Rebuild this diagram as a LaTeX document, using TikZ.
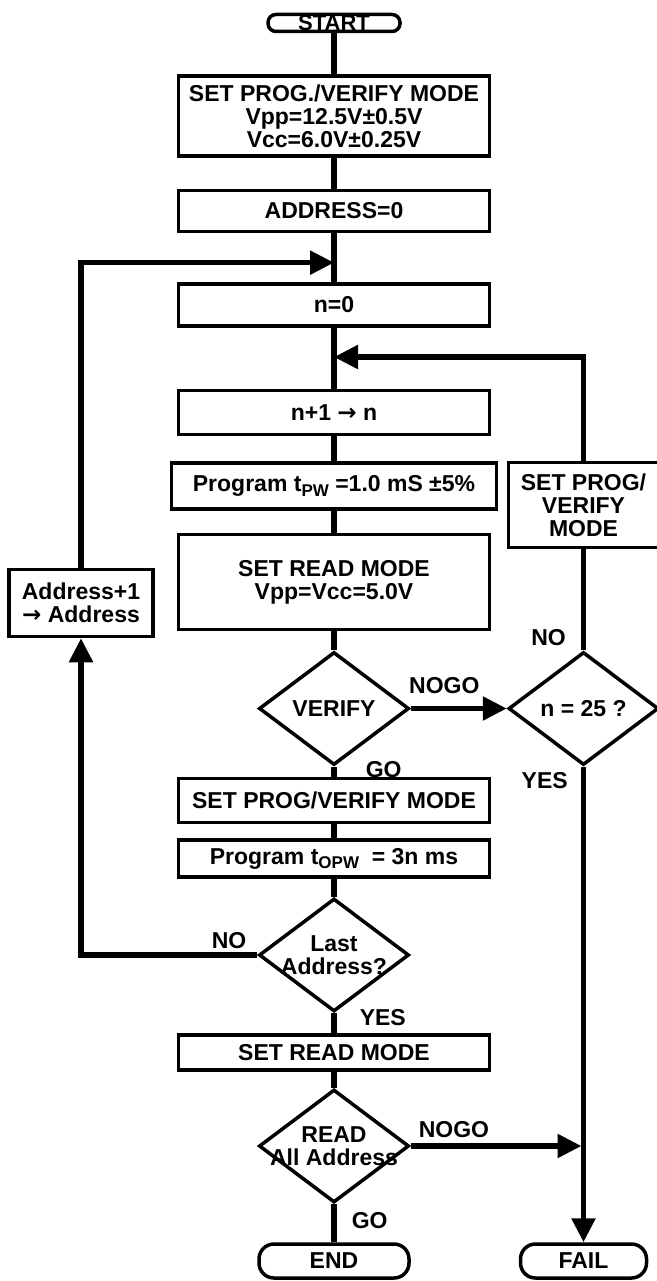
\documentclass[tikz,border=0pt]{standalone}
\usepackage{fontspec}
\setmainfont{Liberation Sans}
\newfontfamily\arrowfont{DejaVu Sans}
\usetikzlibrary{arrows.meta,positioning,shapes.geometric,calc}
\newcommand\lowsub[1]{\raisebox{-0.4ex}{\fontsize{17}{17}\selectfont #1}}
\newcommand\toarrow{{\arrowfont\bfseries →}}

\begin{document}
\begin{tikzpicture}[
      x=1pt, y=1pt,
      font=\fontsize{23}{23}\selectfont\bfseries,
      box/.style={draw, line width=3.5pt, align=center, minimum width=311pt, inner sep=2pt},
      terminal/.style={draw, line width=3.5pt, rounded corners=15pt, minimum height=34pt, inner sep=0pt},
      decision/.style={diamond, draw, line width=3.5pt, minimum width=150pt, minimum height=113pt,
                       aspect=1.33, inner sep=-10pt, align=center},
      wire/.style={line width=5.5pt},
      flow/.style={wire, -{Triangle[length=24pt, width=23pt]}},
      tag/.style={inner sep=1pt}]
    \fill[white] (0,0) rectangle (656,-1281);
    \useasboundingbox (0,0) rectangle (656,-1281);
    % main column
    \node[terminal, minimum width=132pt, minimum height=17pt, rounded corners=8pt,
          font=\fontsize{22}{22}\selectfont\bfseries] (start) at (334,-23) {START};
    \node[box, minimum height=80pt, below=41pt of start] (progset) {SET PROG./VERIFY MODE\\Vpp=12.5V±0.5V\\Vcc=6.0V±0.25V};
    \node[box, minimum height=41pt, below=31pt of progset] (addr0) {ADDRESS=0};
    \node[box, minimum height=42pt, below=49pt of addr0] (nzero) {n=0};
    \node[box, minimum height=44pt, below=61pt of nzero] (ninc) {n+1 \toarrow{} n};
    \node[box, minimum height=46pt, minimum width=325pt, below=25pt of ninc] (pulse) {Program t\lowsub{PW} =1.0 mS ±5\%};
    \node[box, minimum height=95pt, below=22pt of pulse] (readmode) {SET READ MODE\\Vpp=Vcc=5.0V};
    \node[decision, below=19pt of readmode] (verify) {VERIFY};
    \node[box, minimum height=44pt, below=10pt of verify] (pvmode) {SET PROG/VERIFY MODE};
    \node[box, minimum height=37pt, below=14pt of pvmode] (overpgm) {Program t\lowsub{OPW}\ \ = 3n ms};
    \node[decision, below=18pt of overpgm] (last) {Last\\Address?};
    \node[box, minimum height=35pt, below=20pt of last] (readmode2) {SET READ MODE};
    \node[decision, below=16pt of readmode2] (readall) {READ\\All Address};
    \node[terminal, minimum width=150pt, below=38pt of readall] (finish) {END};
    % retry and address loops
    \node[decision, right=96pt of verify] (ncheck) {n = 25 ?};
    \node[box, minimum width=150pt, minimum height=85pt, above=101pt of ncheck] (setpv) {SET PROG/\\VERIFY\\MODE};
    \node[terminal, minimum width=126pt] (fail) at (ncheck |- finish) {FAIL};
    \node[box, minimum width=144pt, minimum height=67pt, left=22pt of readmode, yshift=-21pt] (addrinc) {Address+1\\\toarrow{} Address};
    \coordinate (join1) at ($(addr0.south)!0.6!(nzero.north)$);
    \coordinate (join2) at ($(nzero.south)!0.48!(ninc.north)$);
    \coordinate (failjoin) at (readall.east -| ncheck);

    \draw[wire] (start) -- (progset);
    \draw[wire] (progset) -- (addr0);
    \draw[wire] (addr0) -- (nzero);
    \draw[wire] (nzero) -- (ninc);
    \draw[wire] (ninc) -- (pulse);
    \draw[wire] (pulse) -- (readmode);
    \draw[wire] (readmode) -- (verify);
    \draw[wire] (verify) -- node[tag, right=28pt, pos=0.3] (go1) {GO} (pvmode);
    \draw[wire] (pvmode) -- (overpgm);
    \draw[wire] (overpgm) -- (last);
    \draw[wire] (last) -- node[tag, right=22pt, pos=0.2] (yes2) {YES} (readmode2);
    \draw[wire] (readmode2) -- (readall);
    \draw[wire] (readall) -- node[tag, right=14pt, pos=0.42] (go2) {GO} (finish);
    \draw[flow] (verify.east) -- node[tag, above=11pt, pos=0.35] (nogo1) {NOGO} (ncheck.west);
    \draw[wire] (ncheck.north) -- node[tag, left=14pt, pos=0.13] (no1) {NO} (setpv.south);
    \draw[flow] (setpv.north) |- (join2);
    \draw[flow] (ncheck.south) -- node[tag, left=12pt, pos=0.03] (yes1) {YES} (fail.north);
    \draw[flow, shorten >=2pt] (readall.east) -- node[tag, above=5pt, pos=0.25] (nogo2) {NOGO} (failjoin);
    \draw[flow] (last.west) -| node[tag, above=3pt, pos=0.08] (no2) {NO} (addrinc.south);
    \draw[flow] (addrinc.north) |- (join1);
  \end{tikzpicture}
\end{document}
